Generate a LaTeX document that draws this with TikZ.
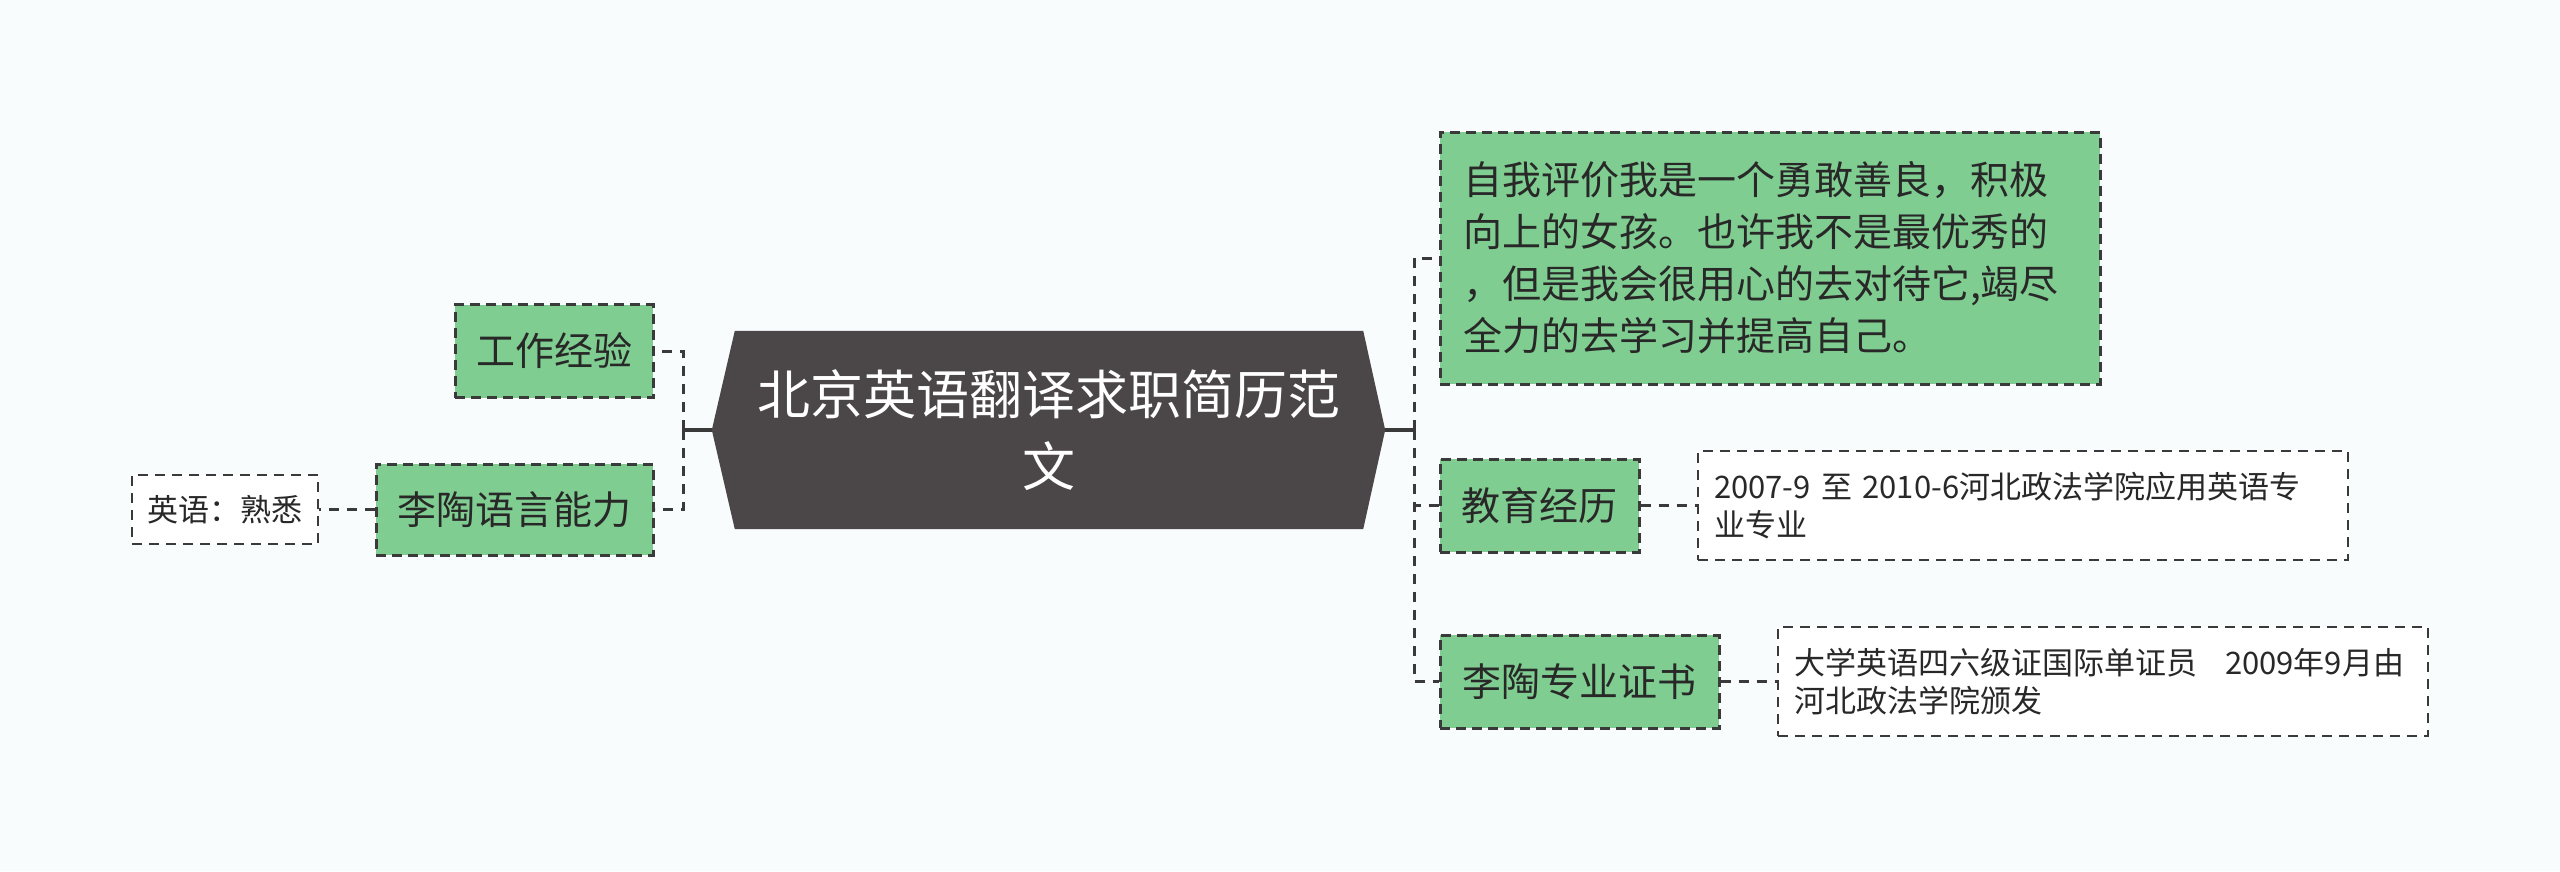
\documentclass[tikz,border=0pt]{standalone}
\usepackage{fontspec}
\setmainfont{Noto Sans CJK SC}
\usetikzlibrary{backgrounds}
\definecolor{rootfill}{RGB}{75,70,71}
\definecolor{topicfill}{RGB}{128,205,145}
\definecolor{linecol}{RGB}{58,58,58}
\definecolor{textcol}{RGB}{40,40,40}
\definecolor{bgcol}{RGB}{248,252,253}

\tikzset{
    topic/.style={draw=linecol, line width=3pt, dash pattern=on 10pt off 6pt,
        fill=topicfill, text=textcol, inner sep=0pt,
        font=\fontsize{39}{52}\selectfont},
    leaf/.style={draw=linecol, line width=2.2pt, dash pattern=on 10pt off 7pt,
        fill=white, text=textcol, inner sep=0pt,
        font=\fontsize{31}{38}\selectfont},
    link/.style={draw=linecol, line width=3pt, dash pattern=on 10pt off 8pt},
    trunk/.style={draw=linecol, line width=3.5pt},
}

\begin{document}
\begin{tikzpicture}[x=1pt, y=-1pt]
    \useasboundingbox (0,0) rectangle (2560,871);

    \node[text=white, text width=620pt, align=center, minimum width=628pt,
        minimum height=198pt, inner sep=0pt, font=\fontsize{53}{72}\selectfont]
        at (1049,430) (root) {北京英语翻译求职简历范\\文};
    \coordinate (rtip) at ([xshift=22pt]root.east);
    \coordinate (ltip) at ([xshift=-23pt]root.west);

    % left side
    \node[topic, minimum width=198pt, minimum height=93pt] at (554,351) (work) {工作经验};
    \node[topic, minimum width=277pt, minimum height=91pt] at (514.5,509.5) (lang) {李陶语言能力};
    \node[leaf, minimum width=186pt, minimum height=69pt] at (225,509.5) (eng) {英语：熟悉};

    % right side
    \node[topic, minimum width=660pt, minimum height=252pt, text width=614pt, align=left]
        at (1770,258) (self) {自我评价我是一个勇敢善良，积极\\向上的女孩。也许我不是最优秀的\\，但是我会很用心的去对待它,竭尽\\全力的去学习并提高自己。};
    \node[topic, minimum width=199pt, minimum height=93pt] at (1539.5,505.5) (edu) {教育经历};
    \node[topic, minimum width=279pt, minimum height=93pt] at (1579.5,681.5) (cert) {李陶专业证书};
    \node[leaf, minimum width=650pt, minimum height=109pt, text width=618pt, align=left]
        at (2023,505.5) (eduinfo) {2007-9 至 2010-6河北政法学院应用英语专\\业专业};
    \node[leaf, minimum width=650pt, minimum height=109pt, text width=618pt, align=left]
        at (2103,681.5) (certinfo) {大学英语四六级证国际单证员\hspace{28pt}2009年9月由\\河北政法学院颁发};

    \begin{scope}[on background layer]
        \fill[bgcol] (0,0) rectangle (2560,871);
        \fill[rootfill] (root.north west) -- (root.north east) -- (rtip)
            -- (root.south east) -- (root.south west) -- (ltip) -- cycle;
    \end{scope}

    \coordinate (rj) at (1414,430);
    \coordinate (lj) at (683,430);

    \draw[trunk] (rtip) -- (rj);
    \draw[trunk] (ltip) -- (lj);
    \draw[link] (rj) |- (self.west);
    \draw[link] (rj) |- (edu.west);
    \draw[link] (rj) |- (cert.west);
    \draw[link] (lj) |- (work.east);
    \draw[link] (lj) |- (lang.east);
    \draw[link] (lang) -- (eng);
    \draw[link] (edu) -- (eduinfo);
    \draw[link] (cert) -- (certinfo);
\end{tikzpicture}
\end{document}
